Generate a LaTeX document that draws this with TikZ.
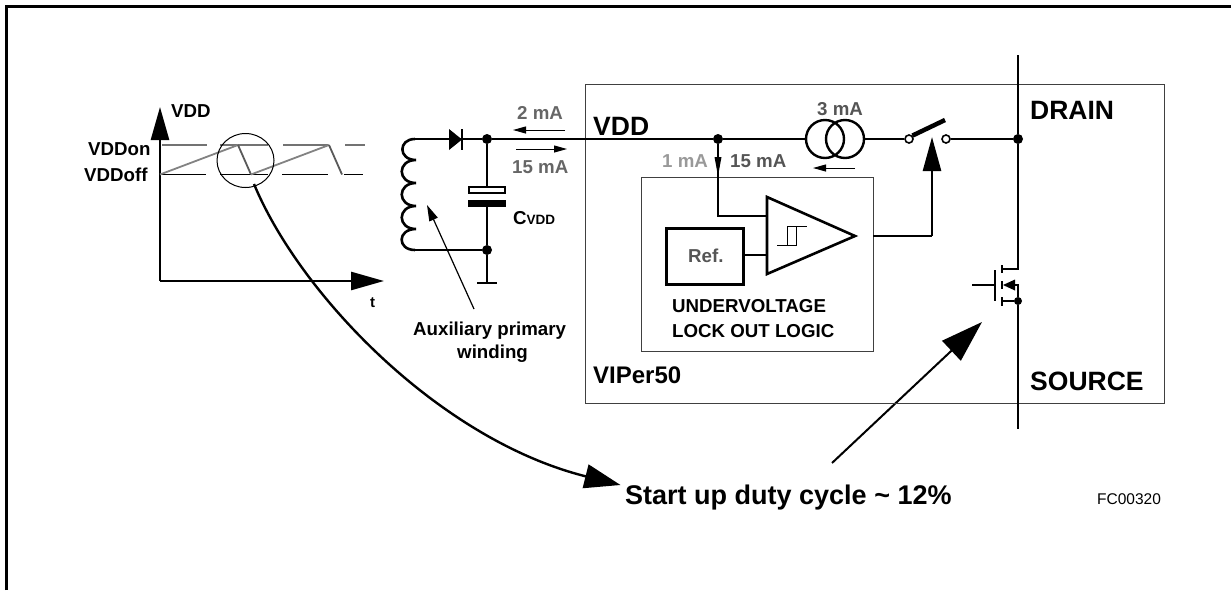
\documentclass[tikz,border=0pt]{standalone}
\usepackage{fontspec}
\setmainfont{Liberation Sans}
\usetikzlibrary{arrows.meta,shapes.geometric}
\newcommand{\fsz}[1]{\fontsize{#1}{#1}\selectfont}
\definecolor{dgray}{HTML}{555555}
\definecolor{mgray}{HTML}{666666}
\definecolor{lgray}{HTML}{999999}
\tikzset{
  wire/.style={line width=2.6pt,black},
  box/.style={line width=1.3pt,draw=black!75},
  dot/.style={circle,fill=black,inner sep=0pt,minimum size=#1},
  dot/.default=10pt,
  txt/.style={inner sep=0pt,anchor=base west,font=\bfseries\fsz{18.7}},
  bigtxt/.style={inner sep=0pt,anchor=base west,font=\bfseries\fsz{26.5}},
  bigtip/.style={-{Triangle[length=#1,width=18pt]}},
  ramp/.style={line width=1.8pt,lgray!85!black},
  fall/.style={line width=1.8pt,black!65},
  contact/.style={circle,draw=black,line width=1.6pt,fill=white,inner sep=0pt,minimum size=8pt},
}
\begin{document}
\begin{tikzpicture}[x=1pt,y=-1pt]
\useasboundingbox (0,0) rectangle (1231,590);
% frame
\draw[line width=3pt] (6.5,590) -- (6.5,6.5) -- (1231,6.5);

% graph
\coordinate (org) at (160,281);
\coordinate (ytip) at (160,107);
\coordinate (xtip) at (384,281);
\draw[wire,bigtip=33pt] (org) -- (ytip);
\draw[wire,bigtip=33pt] (org) -- (xtip);
\foreach \a/\b in {162/207,220/268,283/328,345/365}
  \draw[line width=1.3pt,black!55] (\a,145) -- (\b,145);
\foreach \a/\b in {160/206,220/268,282/328,344/363}
  \draw[line width=1pt,black] (\a,174.5) -- (\b,174.5);
\draw[ramp] (160,174.5) -- (238,145);
\draw[fall] (238,145) -- (251,174.5);
\draw[ramp] (251,174.5) -- (329,145);
\draw[fall] (329,145) -- (342,174.5);
\node[draw=black,line width=1pt,ellipse,minimum width=57pt,minimum height=54pt,inner sep=0pt] (zoomc) at (245.5,160.5) {};
\node[txt] (lvdd) at (171,117) {VDD};
\node[txt] (lon) at (88,155) {VDDon};
\node[txt] (loff) at (84,181) {VDDoff};
\node[txt,font=\bfseries\fsz{15}] (lt) at (370,307) {t};

% duty cycle callout
\node[inner sep=0pt,anchor=base west,font=\bfseries\fsz{27}] (duty) at (625,504) {Start up duty cycle \char`\~{} 12\%};
\coordinate (dutytip) at (620.5,485);
\coordinate (ringout) at (254,184);
\draw[line width=2.4pt,-{Triangle[length=36pt,width=24pt]}] (ringout) .. controls (300,295) and (440,440) .. (dutytip);
\coordinate (fetarrow) at (982,322);
\coordinate (fetfrom) at (832,463);
\draw[line width=2pt,-{Triangle[length=42pt,width=27pt]}] (fetfrom) -- (fetarrow);

% winding
\coordinate (wtop) at (415,139);
\coordinate (wbot) at (415,250);
\draw[wire] (wtop)
  .. controls (398,139) and (398,160) .. (416,160)
  .. controls (397,160) and (397,183) .. (416,183)
  .. controls (397,183) and (397,206) .. (416,206)
  .. controls (397,206) and (397,229) .. (416,229)
  .. controls (397,229) and (397,250) .. (wbot);

% junctions
\node[dot] (ja) at (487,139) {};
\node[dot] (jb) at (487,250) {};
\node[dot] (jc) at (718,139) {};
\node[dot] (jd) at (1018,139) {};
\node[dot=8pt] (je) at (1018,301) {};

% VDD rail
\draw[wire] (wtop) -- (ja);
\draw[wire] (wbot) -- (jb);
\fill (449,129) -- (462,139.5) -- (449,150) -- cycle;
\draw[line width=1.4pt] (462,129) -- (462,150);
\node[contact] (sa) at (909,139) {};
\node[contact] (sb) at (946,139) {};
\node[circle,draw=black,line width=2.4pt,minimum size=38pt,inner sep=0pt] (csa) at (825,139) {};
\node[circle,draw=black,line width=2.4pt,minimum size=38pt,inner sep=0pt] (csb) at (845,139) {};

% capacitor
\coordinate (gnd) at (487,283);
\draw[wire] (ja) -- (487,187);
\draw[wire] (487,207) -- (jb);
\draw[wire] (jb) -- (gnd);
\draw[wire] (477,283) -- (497,283);
\draw[line width=1.6pt,fill=white] (469,187) rectangle (505,193);
\fill (468,200) rectangle (506,207);
\node[inner sep=0pt,anchor=base west,font=\bfseries\fsz{18.7}] (lc) at (513,224) {C\fsz{13.5}VDD};

% auxiliary label
\node[txt] (aux) at (413,335) {Auxiliary primary};
\node[txt] (aux2) at (457,358) {winding};
\coordinate (auxtip) at (427,205);
\coordinate (auxfrom) at (474,309);
\draw[line width=1.2pt,-{Triangle[length=16pt,width=9pt]}] (auxfrom) -- (auxtip);

% VIPer box
\node[box,draw,minimum width=579pt,minimum height=318.5pt,inner sep=0pt,anchor=north west] (viper) at (585,84) {};
\node[box,draw,minimum width=232pt,minimum height=174pt,inner sep=0pt,anchor=north west] (uvlo) at (641,177) {};

% wires over the outer box
\draw[wire] (ja) -- (jc);
\draw[wire] (jc) -- (csa.west);
\draw[line width=2.2pt] (csb.east) -- (sa.west);
\draw[line width=2.2pt] (sb.east) -- (jd);
\draw[line width=4.5pt] (sa.north east) -- (945,120);

% comparator
\node[draw=black,line width=2.6pt,minimum width=77pt,minimum height=56pt,inner sep=0pt,anchor=north west] (ref) at (665,227) {};
\node[txt,text=dgray] (lref) at (688,262) {Ref.};
\draw[line width=2.6pt,fill=white] (767,197) -- (855,236) -- (767,274) -- cycle;
\coordinate (cin1) at (767,216);
\coordinate (cin2) at (767,255);
\draw[wire] (jc) -- (718,216) -- (cin1);
\draw[wire] (742,255) -- (cin2);
\draw[line width=1pt] (777,245) -- (796,245) -- (796,226);
\draw[line width=1pt] (787,245) -- (787,226) -- (807,226);
\draw[wire] (873,236) -- (932,236) coordinate (up);
\draw[wire,bigtip=34pt] (up) -- (932,137);

% small current arrows
\draw[line width=1pt,-{Triangle[length=13pt,width=7pt]}] (565,130) -- (513,130);
\draw[line width=1pt,-{Triangle[length=13pt,width=7pt]}] (516,149) -- (567,149);
\draw[line width=1pt,-{Triangle[length=13pt,width=7pt]}] (855,168) -- (813,168);
\fill (714.5,157) -- (721.5,157) -- (718,176) -- cycle;

% current labels
\node[txt,text=mgray] (m2) at (517,119) {2 mA};
\node[txt,text=mgray] (m15) at (512,173) {15 mA};
\node[txt,text=lgray] (m1) at (662,167) {1 mA};
\node[txt,text=dgray] (m15b) at (730,167) {15 mA};
\node[txt,text=dgray] (m3) at (817,115) {3 mA};
\node[txt] (uv1) at (672,312) {UNDERVOLTAGE};
\node[txt] (uv2) at (672,337) {LOCK OUT LOGIC};

% big labels
\node[bigtxt] (lvddb) at (593,135) {VDD};
\node[bigtxt] (ldrain) at (1030,119) {DRAIN};
\node[bigtxt] (lsource) at (1030,390) {SOURCE};
\node[bigtxt,font=\bfseries\fsz{24}] (lviper) at (593,383) {VIPer50};
\node[inner sep=0pt,anchor=base west,font=\fsz{15.5}] (fc) at (1097,504) {FC00320};

% MOSFET and drain/source rail
\coordinate (dtop) at (1018,55);
\coordinate (dbot) at (1018,429);
\draw[wire] (dtop) -- (jd);
\draw[wire] (jd) -- (1018,269) -- (1002,269);
\draw[wire] (1002,265) -- (1002,273);
\draw[wire] (995,270) -- (995,301);
\draw[line width=1.5pt] (972,285) -- (995,285);
\draw[wire] (1002,281) -- (1002,289);
\fill (1003,285) -- (1015,279.5) -- (1015,290.5) -- cycle;
\draw[line width=1.8pt] (1015,285) -- (1018,285) -- (je);
\draw[wire] (1002,297) -- (1002,306);
\draw[wire] (1002,301) -- (je);
\draw[wire] (je) -- (dbot);
\end{tikzpicture}
\end{document}
